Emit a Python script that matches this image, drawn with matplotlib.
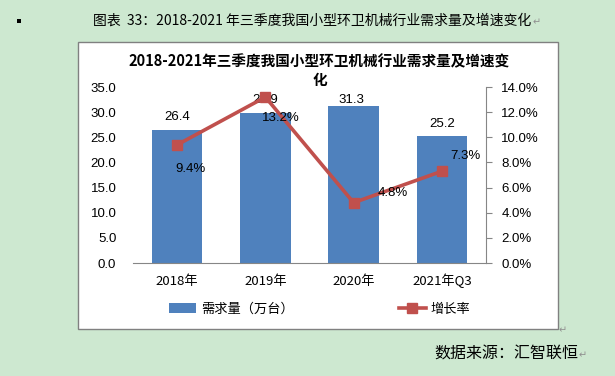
import matplotlib
matplotlib.use('Agg')
import matplotlib.pyplot as plt
from matplotlib.patches import Rectangle, Patch
from matplotlib.lines import Line2D
from matplotlib.ticker import FuncFormatter, MultipleLocator

# data
categories = ['2018年', '2019年', '2020年', '2021年Q3']
demand = [26.4, 29.9, 31.3, 25.2]          # 万台
growth = [9.4, 13.2, 4.8, 7.3]             # %
bar_label_offsets = [(0, 13), (0, 13), (-2, 6), (0, 12)]      # px
pct_label_offsets = [(13, -24), (15, -21), (39, 10), (24, 15)]  # px

title = '2018-2021年三季度我国小型环卫机械行业需求量及增速变'
title_tail = '化'
caption = '图表  33：2018-2021 年三季度我国小型环卫机械行业需求量及增速变化'
source = '数据来源：汇智联恒'

BLUE = '#4F81BD'
RED = '#C0504D'
GRID = '#868686'
BG = '#CDE8D0'

plt.rcParams['font.family'] = ['Liberation Sans', 'Noto Sans CJK SC', 'DejaVu Sans']
cjk = ['Noto Sans CJK SC', 'DejaVu Sans']

W, H = 615, 376
fig = plt.figure(figsize=(W / 100, H / 100), dpi=100)
fig.patch.set_facecolor(BG)

def fx(px):
    return px / W

def fy(py):
    return 1 - py / H

# white chart box
fig.patches.append(Rectangle((fx(78), fy(329)), fx(558) - fx(78), fy(42) - fy(329),
                             transform=fig.transFigure, facecolor='white',
                             edgecolor='#808080', lw=1.0, zorder=-10))
# bullet
fig.patches.append(Rectangle((fx(17), fy(23)), fx(4), 4 / H, transform=fig.transFigure,
                             facecolor='black', edgecolor='none', zorder=-10))

ax = fig.add_axes([fx(133), fy(263), fx(486) - fx(133), fy(87) - fy(263)])
ax.set_facecolor('none')
ax2 = ax.twinx()

x = list(range(len(categories)))
ax.bar(x, demand, width=0.57, color=BLUE, zorder=2)
ax.set_xlim(-0.5, len(categories) - 0.5)
ax.set_ylim(0, 35)
ax.yaxis.set_major_locator(MultipleLocator(5))
ax.yaxis.set_major_formatter(FuncFormatter(lambda v, p: f'{v:.1f}'))
ax.set_xticks(x)
ax.set_xticklabels(categories, fontsize=9.5, family=cjk, va='baseline')
ax.tick_params(axis='x', length=0, pad=16)
ax.tick_params(axis='y', length=0, pad=12, labelsize=9.5)
for s in ['left', 'top', 'right']:
    ax.spines[s].set_visible(False)
ax.spines['bottom'].set_color(GRID)

for xi, v, off in zip(x, demand, bar_label_offsets):
    ax.annotate(f'{v:.1f}', (xi, v), xytext=(off[0] * 0.72, off[1] * 0.72),
                textcoords='offset points', ha='center', va='center', fontsize=9.5)

ax2.plot(x, growth, color=RED, lw=2.6, marker='s', ms=7.5, zorder=3)
ax2.set_ylim(0, 14)
ax2.yaxis.set_major_locator(MultipleLocator(2))
ax2.yaxis.set_major_formatter(FuncFormatter(lambda v, p: f'{v:.1f}%'))
ax2.tick_params(axis='y', length=4, color=GRID, pad=7, labelsize=9.5)
for s in ['left', 'top', 'bottom']:
    ax2.spines[s].set_visible(False)
ax2.spines['right'].set_color(GRID)

for xi, v, off in zip(x, growth, pct_label_offsets):
    ax2.annotate(f'{v:.1f}%', (xi, v), xytext=(off[0] * 0.72, off[1] * 0.72),
                 textcoords='offset points', ha='center', va='center', fontsize=9.5)

# chart title (wrapped over two lines like the original)
fig.text(fx(319), fy(61), title, ha='center', va='center', fontsize=10.5,
         fontweight='bold', family=cjk)
fig.text(fx(320), fy(80), title_tail, ha='center', va='center', fontsize=10.5,
         fontweight='bold', family=cjk)

# legend
handles = [Patch(facecolor=BLUE, edgecolor='none'),
           Line2D([0], [0], color=RED, lw=2.6, marker='s', ms=7.5)]
fig.legend(handles, ['需求量（万台）', '增长率'], loc='center',
           bbox_to_anchor=(fx(320), fy(309)), ncol=2, frameon=False,
           prop={'family': cjk, 'size': 9.5}, handlelength=2.0,
           handletextpad=0.4, columnspacing=8.0)

# document text around the chart
fig.text(fx(312), fy(21), caption, ha='center', va='center', fontsize=10, family=cjk)
fig.text(fx(533), fy(22), '↵', ha='left', va='center', fontsize=7, color='#909090')
fig.text(fx(434), fy(354), source, ha='left', va='center', fontsize=11.5, family=cjk)
fig.text(fx(579), fy(355), '↵', ha='left', va='center', fontsize=7, color='#909090')
fig.text(fx(559), fy(330), '↵', ha='left', va='center', fontsize=7, color='#909090')

fig.savefig('out.png', dpi=100, facecolor=fig.get_facecolor())
